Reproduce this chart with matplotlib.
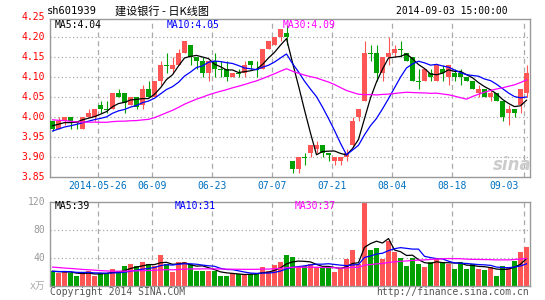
import numpy as np
import matplotlib
matplotlib.use("Agg")
import matplotlib.pyplot as plt

plt.rcParams['font.family'] = ['DejaVu Sans Mono', 'Noto Sans CJK SC']

# daily bars, 2014-05-14 .. 2014-09-03 (80 sessions)
open_ = [3.99, 3.97, 3.99, 4.00, 3.99, 3.97, 4.00, 4.00, 4.03, 4.02,
         4.02, 4.06, 4.06, 4.03, 4.05, 4.03, 4.07, 4.05, 4.09, 4.13,
         4.12, 4.13, 4.16, 4.18, 4.15, 4.14, 4.11, 4.14, 4.12, 4.12,
         4.10, 4.11, 4.11, 4.14, 4.12, 4.12, 4.17, 4.18, 4.20, 4.21,
         3.89, 3.87, 3.90, 3.91, 3.92, 3.93, 3.91, 3.89, 3.89, 3.90,
         3.93, 4.00, 4.04, 4.16, 4.16, 4.11, 4.15, 4.16, 4.17, 4.16,
         4.15, 4.09, 4.09, 4.11, 4.09, 4.12, 4.10, 4.11, 4.11, 4.10,
         4.09, 4.06, 4.07, 4.05, 4.06, 4.04, 4.01, 4.02, 4.03, 4.06]
high = [3.99, 4.00, 4.00, 4.00, 3.99, 4.00, 4.02, 4.02, 4.04, 4.04,
        4.06, 4.07, 4.06, 4.05, 4.05, 4.08, 4.09, 4.09, 4.14, 4.16,
        4.15, 4.17, 4.19, 4.18, 4.15, 4.15, 4.14, 4.16, 4.14, 4.14,
        4.11, 4.12, 4.14, 4.14, 4.14, 4.17, 4.19, 4.20, 4.22, 4.23,
        3.89, 3.90, 3.91, 3.93, 3.94, 3.93, 3.91, 3.90, 3.90, 3.92,
        4.00, 4.02, 4.19, 4.18, 4.18, 4.15, 4.20, 4.18, 4.19, 4.16,
        4.15, 4.12, 4.12, 4.12, 4.13, 4.13, 4.13, 4.12, 4.12, 4.10,
        4.09, 4.08, 4.07, 4.07, 4.06, 4.04, 4.03, 4.02, 4.07, 4.13]
low = [3.965, 3.97, 3.98, 3.97, 3.97, 3.97, 4.00, 3.99, 4.01, 4.01,
       4.02, 4.05, 4.01, 4.03, 4.02, 4.02, 4.05, 4.05, 4.08, 4.11,
       4.11, 4.13, 4.16, 4.13, 4.12, 4.10, 4.09, 4.10, 4.10, 4.09,
       4.10, 4.10, 4.10, 4.12, 4.10, 4.12, 4.17, 4.18, 4.19, 4.18,
       3.86, 3.86, 3.88, 3.90, 3.91, 3.90, 3.89, 3.88, 3.88, 3.89,
       3.925, 3.99, 4.04, 4.14, 4.09, 4.09, 4.13, 4.15, 4.15, 4.14,
       4.09, 4.07, 4.09, 4.09, 4.09, 4.09, 4.08, 4.09, 4.08, 4.09,
       4.07, 4.05, 4.05, 4.04, 4.04, 3.99, 3.98, 4.00, 4.01, 4.05]
close = [3.97, 3.99, 4.00, 3.99, 3.985, 4.00, 4.01, 4.02, 4.02, 4.018,
         4.06, 4.05, 4.035, 4.05, 4.025, 4.07, 4.05, 4.09, 4.13, 4.128,
         4.13, 4.16, 4.19, 4.15, 4.14, 4.11, 4.14, 4.12, 4.118, 4.10,
         4.11, 4.108, 4.13, 4.13, 4.118, 4.17, 4.19, 4.20, 4.22, 4.20,
         3.87, 3.90, 3.898, 3.93, 3.93, 3.91, 3.905, 3.90, 3.90, 3.91,
         3.99, 4.02, 4.16, 4.158, 4.11, 4.15, 4.16, 4.17, 4.168, 4.14,
         4.09, 4.088, 4.12, 4.10, 4.13, 4.11, 4.13, 4.10, 4.10, 4.09,
         4.07, 4.07, 4.05, 4.06, 4.04, 4.00, 4.02, 4.01, 4.07, 4.11]
volume = [21, 18, 21, 18, 14, 18, 21, 15, 18, 18,
          25, 22, 28, 32, 28, 34, 31, 28, 45, 31,
          20, 34, 35, 31, 22, 22, 21, 21, 15, 15,
          18, 17, 17, 17, 17, 27, 21, 30, 35, 45,
          41, 27, 28, 31, 27, 27, 27, 20, 25, 38,
          51, 32, 130, 52, 55, 38, 64, 48, 40, 28,
          40, 32, 27, 34, 40, 34, 31, 25, 34, 25,
          32, 24, 23, 27, 15, 29, 27, 36, 48, 56]

# earlier sessions (off chart), estimated so the MA lines start where they do
hist_close = [4.03, 4.02, 4.04, 4.03, 4.02, 4.01, 4.02, 4.03, 4.02, 4.01,
              4.02, 4.03, 4.02, 4.01, 4.02, 4.01, 3.96, 3.95, 3.94, 3.95,
              3.94, 3.95, 3.96, 3.95, 3.96, 3.97, 3.98, 3.99, 3.98]
hist_volume = [38, 42, 35, 33, 40, 36, 31, 38, 34, 33,
               26, 22, 25, 24, 23, 27, 21, 25, 24, 23,
               22, 20, 21, 23, 19, 20, 23, 19, 22]

date_idx = [8, 17, 27, 37, 47, 57, 67, 79]
date_labels = ["2014-05-26", "06-09", "06-23", "07-07", "07-21", "08-04", "08-18", "09-03"]
price_ticks = [3.85, 3.90, 3.95, 4.00, 4.05, 4.10, 4.15, 4.20, 4.25]
price_grid = [3.90, 3.95, 4.00, 4.05, 4.10, 4.15, 4.20]
vol_ticks = [40, 80, 120]

RED = '#ff5555'
GREEN = '#00a000'
GRID = '#aaaaaa'
FRAME = '#999999'


def moving_avg(hist, data, n):
    s = np.concatenate([hist, data])
    ma = np.convolve(s, np.ones(n) / n, mode='valid')
    return ma[-len(data):]


n = len(close)
xi = np.arange(n)
w = 5 / 6
xc = xi + w / 2
o = np.array(open_)
c = np.array(close)
colors = [RED if c[i] >= o[i] else GREEN for i in range(n)]

fig = plt.figure(figsize=(5.45, 3.0), dpi=100)
W, H = 545, 300
ax = fig.add_axes([50 / W, 1 - 177 / H, 480 / W, 158 / H])
axv = fig.add_axes([50 / W, 1 - 286 / H, 480 / W, 84 / H])

for a in (ax, axv):
    a.set_xlim(0, n)
    a.set_xticks([])
    a.set_yticks([])
    for s in a.spines.values():
        s.set_color(FRAME)
        s.set_linewidth(1)
    for d in date_idx:
        a.axvline(d, color=GRID, ls=(0, (4, 3)), lw=0.9, zorder=0)

# price panel
ax.set_ylim(3.85, 4.245)
for v in price_grid:
    ax.axhline(v, color=GRID, ls=(0, (1, 2)), lw=0.9, zorder=0)

ax.vlines(xc, low, high, colors=colors, lw=0.8, zorder=2)
body_bot = np.minimum(o, c)
body_h = np.maximum(np.abs(c - o), 0.0025)
ax.bar(xi, body_h, width=w, bottom=body_bot, align='edge', color=colors, lw=0, zorder=3)

ax.plot(xc, moving_avg(hist_close, close, 5), color='black', lw=0.9, zorder=4)
ax.plot(xc, moving_avg(hist_close, close, 10), color='#0000ff', lw=0.9, zorder=4)
ax.plot(xc, moving_avg(hist_close, close, 30), color='#ff00ff', lw=0.9, zorder=4)

for v in price_ticks:
    ax.text(-0.01, v, f"{v:.2f}", transform=ax.get_yaxis_transform(), ha='right', va='center',
            color='red', fontsize=7, clip_on=False)
for d, lab in zip(date_idx, date_labels):
    ha = 'right' if d == date_idx[-1] else 'center'
    xd = d - 0.8 if d == date_idx[-1] else d
    ax.text(xd, -0.057, lab, transform=ax.get_xaxis_transform(), ha=ha, va='center',
            color='#0070c0', fontsize=7)

# volume panel
axv.set_ylim(0, 120)
for v in [40, 80]:
    axv.axhline(v, color=GRID, ls=(0, (1, 2)), lw=0.9, zorder=0)
axv.bar(xi, volume, width=w, align='edge', color=colors, lw=0, zorder=2)
axv.plot(xc, moving_avg(hist_volume, volume, 5), color='black', lw=0.9, zorder=4)
axv.plot(xc, moving_avg(hist_volume, volume, 10), color='#0000ff', lw=0.9, zorder=4)
axv.plot(xc, moving_avg(hist_volume, volume, 30), color='#ff00ff', lw=0.9, zorder=4)
for v in vol_ticks:
    axv.text(-0.01, v, str(v), transform=axv.get_yaxis_transform(), ha='right', va='center',
             color='#999999', fontsize=7, clip_on=False)
axv.text(-0.01, 0, "x万", transform=axv.get_yaxis_transform(), ha='right', va='center',
         color='#aaaaaa', fontsize=7, clip_on=False)

# header and labels
fig.text(47 / W, 1 - 11 / H, "sh601939", fontsize=7.5, va='center', color='black')
fig.text(115 / W, 1 - 11 / H, "建设银行 - 日K线图", fontsize=8, va='center', color='black',
         family=['Noto Sans CJK SC', 'DejaVu Sans'])
fig.text(508 / W, 1 - 11 / H, "2014-09-03 15:00:00", fontsize=7, va='center', ha='right', color='black')

fig.text(55 / W, 1 - 25 / H, "MA5:4.04", fontsize=7, va='center', color='black')
fig.text(167 / W, 1 - 25 / H, "MA10:4.05", fontsize=7, va='center', color='#0000ff')
fig.text(283 / W, 1 - 25 / H, "MA30:4.09", fontsize=7, va='center', color='#ff00ff')

fig.text(55 / W, 1 - 206 / H, "MA5:39", fontsize=7, va='center', color='black')
fig.text(175 / W, 1 - 206 / H, "MA10:31", fontsize=7, va='center', color='#0000ff')
fig.text(295 / W, 1 - 206 / H, "MA30:37", fontsize=7, va='center', color='#ff00ff')

fig.text(50 / W, 1 - 292 / H, "Copyright 2014 SINA.COM", fontsize=7, va='center', color='#555555')
fig.text(529 / W, 1 - 292 / H, "http://finance.sina.com.cn", fontsize=7, va='center', ha='right',
         color='#555555')

fig.text(512 / W, 1 - 165 / H, "sina", fontsize=12, va='center', ha='center', style='italic',
         weight='bold', color='#cccccc', family='DejaVu Sans')

fig.savefig("out.png", dpi=100)
